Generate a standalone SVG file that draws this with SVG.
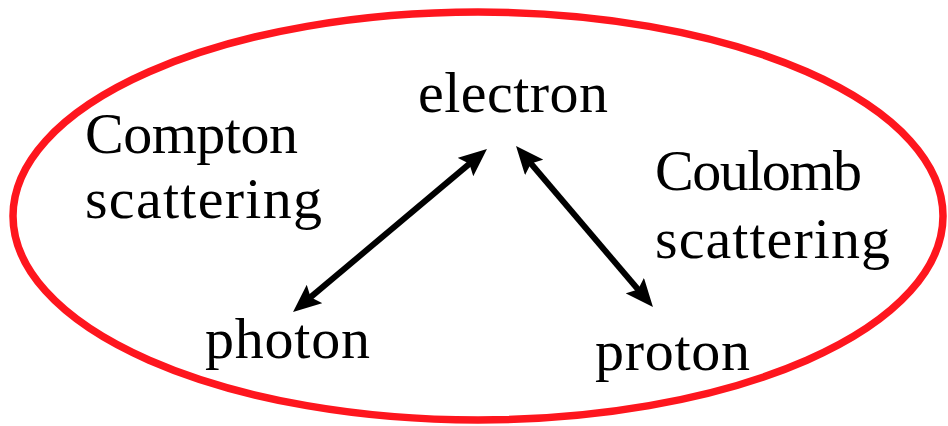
<svg xmlns="http://www.w3.org/2000/svg" width="948" height="426" viewBox="0 0 948 426">
  <style>
    .label { font-family: "Liberation Serif", "Times New Roman", serif; font-size: 58px; fill: #000; }
    .ring { fill: none; stroke: #fe161e; stroke-width: 7.5; }
    .link { stroke: #000; stroke-width: 6; fill: none; marker-start: url(#head); marker-end: url(#head); }
  </style>
  <defs>
    <marker id="head" viewBox="0 0 28 24" refX="10" refY="12" markerWidth="28" markerHeight="24" markerUnits="userSpaceOnUse" orient="auto-start-reverse">
      <path d="M0,0 L28,12 L0,24 L5,12 Z" fill="#000"/>
    </marker>
  </defs>

  <rect width="948" height="426" fill="#fff"/>

  <!-- enclosing system boundary -->
  <g id="boundary">
    <ellipse class="ring" cx="478" cy="216" rx="465" ry="204"/>
  </g>

  <!-- interaction arrows -->
  <g id="connectors">
    <line class="link" x1="473.2" y1="160.6" x2="306.8" y2="300.4"/>
    <line class="link" x1="527.7" y1="159.7" x2="641.3" y2="293.3"/>
  </g>

  <g id="electron">
    <text class="label" x="418" y="112" textLength="190" lengthAdjust="spacing">electron</text>
  </g>
  <g id="photon">
    <text class="label" x="205" y="358" textLength="165" lengthAdjust="spacing">photon</text>
  </g>
  <g id="proton">
    <text class="label" x="595" y="370" textLength="155" lengthAdjust="spacing">proton</text>
  </g>
  <g id="compton-label">
    <text class="label" x="85" y="153" textLength="213" lengthAdjust="spacing">Compton</text>
    <text class="label" x="85" y="218" textLength="237" lengthAdjust="spacing">scattering</text>
  </g>
  <g id="coulomb-label">
    <text class="label" x="655" y="190" textLength="207" lengthAdjust="spacing">Coulomb</text>
    <text class="label" x="655" y="258" textLength="235" lengthAdjust="spacing">scattering</text>
  </g>
</svg>
